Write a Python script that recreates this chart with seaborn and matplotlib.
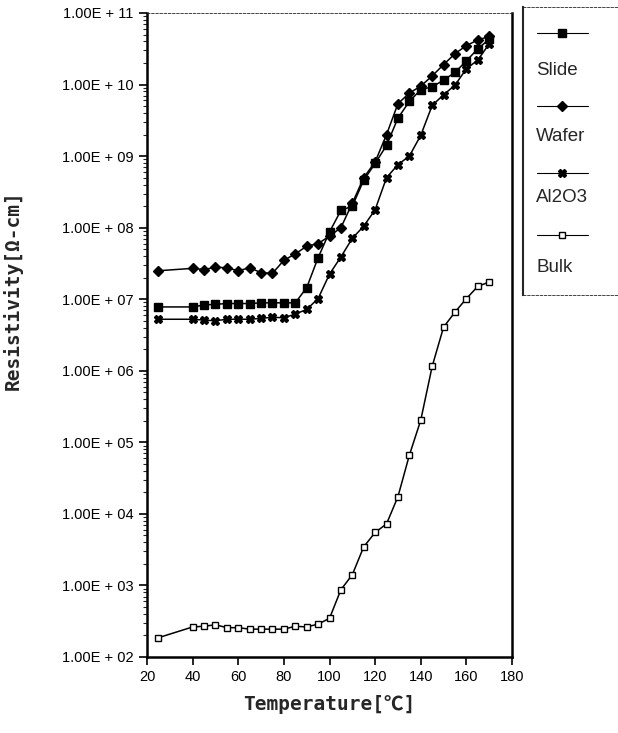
import numpy as np
import pandas as pd
import matplotlib
matplotlib.use("Agg")
import matplotlib.pyplot as plt
import matplotlib.ticker as mticker
import seaborn as sns

# temperatures [C] shared by all four samples
temps = [25, 40, 45, 50, 55, 60, 65, 70, 75, 80, 85, 90, 95, 100,
         105, 110, 115, 120, 125, 130, 135, 140, 145, 150, 155, 160, 165, 170]

# resistivity [ohm-cm]
slide = [7.8e6, 7.8e6, 8.3e6, 8.5e6, 8.7e6, 8.7e6, 8.7e6, 8.9e6, 8.9e6, 8.9e6,
         8.9e6, 1.45e7, 3.8e7, 8.7e7, 1.74e8, 2.0e8, 4.6e8, 7.9e8, 1.41e9, 3.4e9,
         5.8e9, 8.5e9, 9.3e9, 1.15e10, 1.48e10, 2.14e10, 3.16e10, 4.3e10]
wafer = [2.5e7, 2.7e7, 2.6e7, 2.8e7, 2.75e7, 2.5e7, 2.75e7, 2.35e7, 2.3e7, 3.5e7,
         4.3e7, 5.5e7, 6.0e7, 7.6e7, 1.0e8, 2.2e8, 5.0e8, 8.3e8, 2.0e9, 5.4e9,
         7.6e9, 9.5e9, 1.32e10, 1.9e10, 2.7e10, 3.5e10, 4.2e10, 4.7e10]
al2o3 = [5.25e6, 5.25e6, 5.1e6, 5.0e6, 5.25e6, 5.25e6, 5.25e6, 5.4e6, 5.6e6, 5.5e6,
         6.2e6, 7.2e6, 1.02e7, 2.24e7, 3.9e7, 7.1e7, 1.05e8, 1.78e8, 5.0e8, 7.6e8,
         1.0e9, 1.95e9, 5.1e9, 7.2e9, 9.8e9, 1.66e10, 2.2e10, 3.7e10]
bulk = [186, 263, 269, 282, 257, 257, 245, 245, 245, 245,
        269, 263, 288, 347, 871, 1413, 3467, 5495, 7244, 1.74e4,
        6.6e4, 2.04e5, 1.15e6, 4.07e6, 6.6e6, 1.02e7, 1.51e7, 1.74e7]

names = ["Slide", "Wafer", "Al2O3", "Bulk"]
series = [slide, wafer, al2o3, bulk]
decades = list(range(2, 12))

styles = {
    "Slide": dict(marker="s", markersize=5.3, markerfacecolor="black"),
    "Wafer": dict(marker="D", markersize=4.8, markerfacecolor="black"),
    "Al2O3": dict(marker="X", markersize=5.5, markerfacecolor="black"),
    "Bulk": dict(marker="s", markersize=5, markerfacecolor="white"),
}

df = pd.DataFrame({
    "Temperature": np.tile(temps, len(names)),
    "Resistivity": np.concatenate(series),
    "Sample": np.repeat(names, len(temps)),
})

sns.set_style("ticks")
plt.rcParams["font.family"] = ["Liberation Sans", "DejaVu Sans"]

fig = plt.figure(figsize=(6.18, 7.33), dpi=100)
ax = fig.add_axes([147 / 618, 1 - 657 / 733, 365 / 618, 644 / 733])

for name in names:
    sns.lineplot(data=df[df["Sample"] == name], x="Temperature", y="Resistivity",
                 ax=ax, color="black", linewidth=1.1, markeredgecolor="black",
                 markeredgewidth=1.0, **styles[name])

ax.set_yscale("log")
ax.set_xlim(20, 180)
ax.set_ylim(1e2, 1e11)
ax.set_xticks(range(20, 181, 20))
ax.set_yticks([10.0 ** k for k in decades])
ax.set_yticklabels(["1.00E + %02d" % k for k in decades])
minor = [m * 10.0 ** k for k in decades[:-1] for m in range(2, 10)]
ax.set_yticks(minor, minor=True)
ax.yaxis.set_minor_formatter(mticker.NullFormatter())
ax.tick_params(axis="both", which="major", direction="out", length=6, width=1.2,
               labelsize=10.5, colors="black")
ax.tick_params(axis="y", which="minor", direction="out", length=3, width=0.8)

for side in ["left", "bottom", "right"]:
    ax.spines[side].set_linewidth(1.8)
    ax.spines[side].set_color("black")
ax.spines["top"].set_linewidth(0.6)
ax.spines["top"].set_linestyle((0, (3, 2)))

label_font = dict(family=["DejaVu Sans Mono", "Noto Sans CJK SC"], weight="bold", size=14)
ax.set_xlabel("Temperature[\u2103]", fontdict=label_font, labelpad=8)
ax.set_ylabel("Resistivity[\u03a9-cm]", fontdict=label_font, labelpad=10)
ax.yaxis.set_label_coords(-0.34, 0.57)

# legend box: marker line above each name
lax = fig.add_axes([523 / 618, 1 - 295 / 733, 95 / 618, 288 / 733])
lax.set_xlim(0, 1)
lax.set_ylim(0, 1)
lax.set_xticks([])
lax.set_yticks([])
for side in ["top", "bottom", "right"]:
    lax.spines[side].set_linewidth(0.6)
    lax.spines[side].set_linestyle((0, (3, 2)))
lax.spines["left"].set_linewidth(1.5)
handle_y = [0.91, 0.656, 0.424, 0.208]
text_y = [0.781, 0.549, 0.337, 0.097]
for name, hy, ty in zip(names, handle_y, text_y):
    lax.plot([0.15, 0.68], [hy, hy], color="black", linewidth=0.8)
    lax.plot([0.415], [hy], color="black", markeredgecolor="black",
             markeredgewidth=1.0, **styles[name])
    lax.text(0.14, ty, name, fontsize=13.5, va="center", ha="left")

fig.savefig("out.png", dpi=100)
